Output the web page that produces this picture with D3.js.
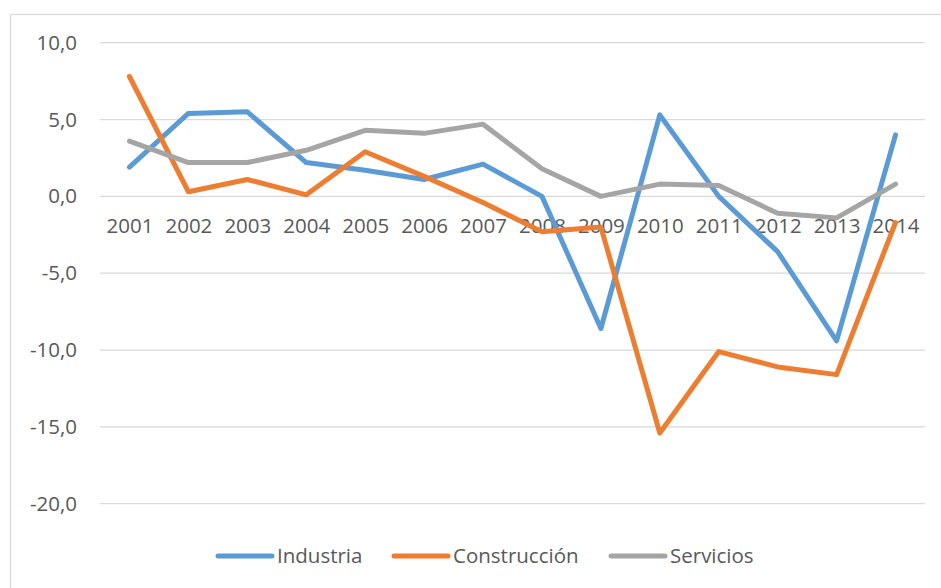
<!DOCTYPE html>
<html>
<head>
<meta charset="utf-8">
<script src="https://cdnjs.cloudflare.com/ajax/libs/d3/7.8.5/d3.min.js"></script>
<style>
  body { margin: 0; background: #fff; }
  text { font-family: "Open Sans", "Noto Sans", sans-serif; fill: #595959; }
</style>
</head>
<body>
<svg id="chart" width="941" height="588"></svg>
<script>
// data
let years = ['2001', '2002', '2003', '2004', '2005', '2006', '2007', '2008', '2009', '2010', '2011', '2012', '2013', '2014'];
let industria = [1.9, 5.4, 5.5, 2.2, 1.7, 1.1, 2.1, 0.0, -8.6, 5.3, 0.0, -3.6, -9.4, 4.0];
let construccion = [7.8, 0.3, 1.1, 0.1, 2.9, 1.3, -0.4, -2.3, -2.0, -15.4, -10.1, -11.1, -11.6, -1.7];
let servicios = [3.6, 2.2, 2.2, 3.0, 4.3, 4.1, 4.7, 1.8, 0.0, 0.8, 0.7, -1.1, -1.4, 0.8];
let yTicks = [10, 5, 0, -5, -10, -15, -20];

let series = [
    { name: 'Industria', values: industria, color: '#5B9BD5' },
    { name: 'Construcción', values: construccion, color: '#ED7D31' },
    { name: 'Servicios', values: servicios, color: '#A5A5A5' }
];

let margin = { left: 100, right: 16, top: 43, bottom: 84 };
let width = 941 - margin.left - margin.right;
let fontSize = '20.5px';

let svg = d3.select('#chart');

// outer chart border
svg.append('rect')
    .attr('x', 10.5).attr('y', 14.5)
    .attr('width', 960).attr('height', 600)
    .attr('fill', 'none')
    .attr('stroke', '#D9D9D9')
    .attr('stroke-width', 1.3);

let x = d3.scalePoint().domain(years).range([margin.left, margin.left + width]).padding(0.5);
let y = d3.scaleLinear().domain([-20, 10]).range([503.7, 42.7]);

// gridlines
svg.append('g')
    .selectAll('line')
    .data(yTicks)
    .enter()
    .append('line')
    .attr('x1', margin.left).attr('x2', margin.left + width)
    .attr('y1', d => y(d)).attr('y2', d => y(d))
    .attr('stroke', '#D9D9D9')
    .attr('stroke-width', 1.3);

// y axis labels
let fmt = d => d3.format('.1f')(d).replace('.', ',').replace('−', '-');
let yAxis = d3.axisLeft(y).tickValues(yTicks).tickSize(0).tickPadding(0).tickFormat(fmt);
svg.append('g')
    .attr('transform', 'translate(77,0)')
    .call(yAxis)
    .call(g => g.select('.domain').remove())
    .selectAll('text')
    .attr('font-size', fontSize)
    .style('font-family', '"Open Sans", "Noto Sans", sans-serif')
    .attr('fill', '#595959');

// x axis labels, sitting just under the zero line
let xAxis = d3.axisBottom(x).tickSize(0).tickPadding(0);
svg.append('g')
    .attr('transform', 'translate(0,' + (y(0) + 22) + ')')
    .call(xAxis)
    .call(g => g.select('.domain').remove())
    .selectAll('text')
    .attr('font-size', fontSize)
    .style('font-family', '"Open Sans", "Noto Sans", sans-serif')
    .attr('fill', '#595959');

// lines
let line = d3.line()
    .x((d, i) => x(years[i]))
    .y(d => y(d));

svg.append('g')
    .selectAll('path')
    .data(series)
    .enter()
    .append('path')
    .attr('d', d => line(d.values))
    .attr('fill', 'none')
    .attr('stroke', d => d.color)
    .attr('stroke-width', 5)
    .attr('stroke-linejoin', 'round')
    .attr('stroke-linecap', 'round');

// legend
let legendX = [218, 394, 611];
let legend = svg.append('g')
    .selectAll('g')
    .data(series)
    .enter()
    .append('g')
    .attr('transform', (d, i) => 'translate(' + legendX[i] + ',556)');

legend.append('line')
    .attr('x1', 0).attr('x2', 54)
    .attr('stroke', d => d.color)
    .attr('stroke-width', 5)
    .attr('stroke-linecap', 'round');

legend.append('text')
    .attr('x', 59)
    .attr('dy', '0.35em')
    .attr('font-size', fontSize)
    .text(d => d.name);
</script>
</body>
</html>
